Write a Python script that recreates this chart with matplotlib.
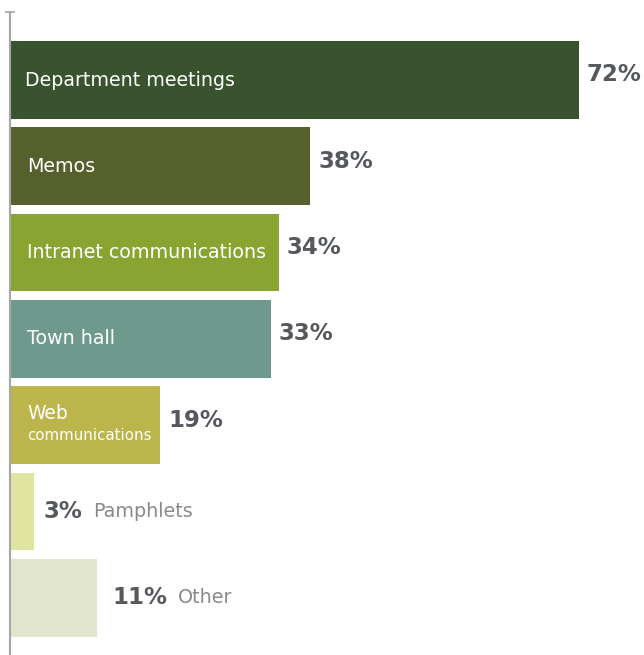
import matplotlib
matplotlib.use("Agg")
from matplotlib import pyplot as plt

categories = ["Department meetings", "Memos", "Intranet communications", "Town hall",
              "Web communications", "Pamphlets", "Other"]
shares = [72, 38, 34, 33, 19, 3, 11]
colors = ["#38532d", "#56602c", "#8aa432", "#6f998c", "#bbb54b", "#dfe4a0", "#e1e5cd"]
# bars too short to hold their name get it printed outside, after the value
outside = [False, False, False, False, False, True, True]

plt.rcParams['font.family'] = ['DejaVu Sans']

fig = plt.figure(figsize=(6.44, 6.55), dpi=100)
ax = fig.add_axes([10 / 644, 0, 634 / 644, 643 / 655])

pos = list(range(len(shares)))
ax.barh(pos, shares, height=0.9, color=colors, left=0)

ax.set_xlim(0, 634 / 7.9)
ax.set_ylim(6.663, -0.788)

value_color = "#55585c"
for i, (name, share, inside_out) in enumerate(zip(categories, shares, outside)):
    if not inside_out:
        if name == "Web communications":
            ax.text(2.2, i - 0.14, "Web", color="white", fontsize=13.5, va="center", ha="left")
            ax.text(2.2, i + 0.12, "communications", color="white", fontsize=10.8, va="center", ha="left")
        else:
            ax.text(1.9 if i == 0 else 2.2, i, name, color="white", fontsize=13.7, va="center", ha="left")
        ax.text(share + 1.0, i - 0.06, f"{share}%", color=value_color, fontsize=16.5,
                fontweight="bold", va="center", ha="left")
    else:
        gap = 1.2 if share < 5 else 1.9
        t = ax.text(share + gap, i, f"{share}%", color=value_color, fontsize=16.5,
                    fontweight="bold", va="center", ha="left")
        ax.annotate(name, xy=(1, 0.5), xycoords=t, xytext=(8, 0), textcoords="offset points",
                    color="#8a8a8a", fontsize=13.8, va="center", ha="left")

for side in ["top", "right", "bottom"]:
    ax.spines[side].set_visible(False)
ax.spines["left"].set_color("#a6a6a6")
ax.spines["left"].set_linewidth(1.5)
ax.set_xticks([])
ax.set_yticks([-0.788])
ax.set_yticklabels([])
ax.tick_params(axis="y", length=7, direction="inout", color="#a6a6a6", width=1.2)

fig.savefig("out.png", dpi=100)
